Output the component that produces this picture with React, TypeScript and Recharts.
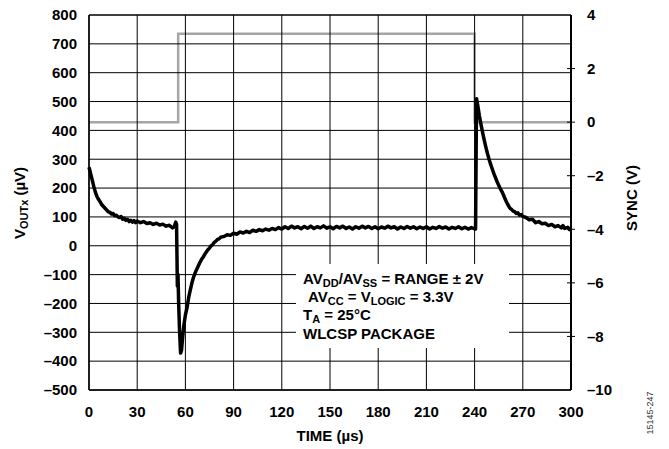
import { LineChart, Line, XAxis, YAxis } from 'recharts'

const FONT = '"Liberation Sans", Arial, Helvetica, sans-serif'

// time axis (µs)
const xTicks = [0, 30, 60, 90, 120, 150, 180, 210, 240, 270, 300]
const leftTicks = [-500, -400, -300, -200, -100, 0, 100, 200, 300, 400, 500, 600, 700, 800]
const rightTicks = [-10, -8, -6, -4, -2, 0, 2, 4]

// VOUTx trace
const traceTime = [
  0, 0.5, 1, 2, 3, 4, 5, 6, 7, 8, 9, 10, 11, 12, 13, 14, 15, 16, 17, 18, 19, 20,
  21, 22, 23, 24, 25, 26, 27, 28, 29, 30, 32, 34, 36, 38, 40, 42, 44, 46, 48, 50,
  52, 53, 54, 54.5, 55, 55.4, 55.8, 56.4, 57, 57.6, 58.4, 59.2, 60, 61, 62, 63,
  64, 65, 66, 67, 68, 69, 70, 71, 72, 73, 74, 75, 76, 77, 78, 79, 80, 81, 82, 84,
  86, 88, 90, 92, 94, 96, 98, 100, 102, 104, 106, 108, 110, 112, 114, 116, 118,
  120, 122, 124, 126, 128, 130, 132, 134, 136, 138, 140, 142, 144, 146, 148, 150,
  152, 154, 156, 158, 160, 162, 164, 166, 168, 170, 172, 174, 176, 178, 180, 182,
  184, 186, 188, 190, 192, 194, 196, 198, 200, 202, 204, 206, 208, 210, 212, 214,
  216, 218, 220, 222, 224, 226, 228, 230, 232, 234, 236, 238, 240.6, 241.2, 242,
  243, 244, 245, 246, 247, 248, 249, 250, 251, 252, 253, 254, 255, 256, 257, 258,
  259, 260, 261, 262, 263, 264, 265, 266, 267, 268, 269, 270, 272, 274, 276, 278,
  280, 282, 284, 286, 288, 290, 292, 294, 295, 296, 298, 299, 300,
]
const vout = [
  272, 262, 250, 228, 205, 185, 170, 160, 152, 142, 136, 130, 124, 118, 116, 110, 112, 104, 106, 100, 98, 101,
  92, 95, 88, 92, 84, 88, 82, 87, 80, 86, 80, 84, 77, 80, 74, 78, 72, 75, 68, 71,
  62, 66, 82, 74, -140, -100, -200, -300, -372, -362, -310, -270, -240, -215, -180, -155,
  -130, -110, -95, -82, -70, -58, -48, -40, -30, -22, -14, -8, 0, 4, 12, 16, 22, 24, 30, 32,
  38, 36, 44, 40, 48, 44, 50, 46, 54, 50, 56, 52, 58, 54, 60, 56, 63,
  58, 66, 60, 68, 62, 66, 59, 67, 61, 68, 60, 66, 62, 69, 61, 66,
  59, 67, 62, 68, 60, 65, 58, 66, 61, 68, 62, 67, 60, 66, 59, 65,
  61, 68, 62, 66, 58, 65, 60, 67, 61, 66, 59, 65, 60, 66, 58, 64,
  60, 67, 61, 65, 58, 64, 60, 66, 59, 64, 58, 63, 58, 510, 485,
  450, 420, 392, 366, 342, 320, 300, 282, 266, 250, 236, 222, 210, 198, 188, 176,
  162, 150, 140, 130, 126, 120, 118, 112, 114, 106, 108, 102, 98, 90, 92, 80,
  84, 76, 78, 70, 74, 66, 70, 62, 70, 60, 64, 56, 58,
]

// SYNC level (V)
const syncTime = [0, 55.5, 55.5, 240, 240, 300]
const syncLevel = [0, 0, 3.3, 3.3, 0, 0]

const trace = traceTime.map((t, i) => ({ t, v: vout[i] }))
const sync = syncTime.map((t, i) => ({ t, s: syncLevel[i] }))

// plot box
const W = 669
const H = 449
const M = { top: 15, right: 38, left: 29, bottom: 29 }
const AXW = 60
const AXH = 30
const PX = M.left + AXW
const PY = M.top
const PW = W - M.left - M.right - 2 * AXW
const PH = H - M.top - M.bottom - AXH
const X0 = xTicks[0]
const X1 = xTicks[xTicks.length - 1]
const Y0 = leftTicks[0]
const Y1 = leftTicks[leftTicks.length - 1]
const gx = (t: number) => PX + ((t - X0) / (X1 - X0)) * PW
const gy = (v: number) => PY + ((Y1 - v) / (Y1 - Y0)) * PH

const dash = (v: number) => (v < 0 ? '\u2013' + Math.abs(v) : String(v))

const RightTick = (props: any) => {
  const { x, y, payload } = props
  const v = payload.value
  const edge = v === 4 || v === -10
  return (
    <g>
      {!edge && <line x1={x - 4} x2={x + 4} y1={y} y2={y} stroke="#000" strokeWidth={1} />}
      <text x={x + 16} y={y} dy="0.355em" textAnchor="start" fontFamily={FONT} fontWeight="bold" fontSize={15} fill="#000">
        {dash(v)}
      </text>
    </g>
  )
}

const tickStyle = { fill: '#000', fontSize: 15, fontWeight: 'bold', fontFamily: FONT }

export default function App() {
  return (
    <div style={{ position: 'absolute', left: 0, top: 0, width: W, height: H, background: '#fff' }}>
      <LineChart width={W} height={H} data={trace} margin={M}>
        <XAxis
          dataKey="t"
          type="number"
          domain={[X0, X1]}
          ticks={xTicks}
          tickLine={false}
          tickSize={0}
          tickMargin={16}
          height={AXH}
          axisLine={{ stroke: '#000', strokeWidth: 1.5 }}
          tick={tickStyle}
        />
        <YAxis
          domain={[Y0, Y1]}
          ticks={leftTicks}
          tickFormatter={dash}
          tickLine={false}
          tickSize={0}
          tickMargin={12}
          width={AXW}
          axisLine={{ stroke: '#000', strokeWidth: 1.5 }}
          tick={tickStyle}
        />
        <YAxis
          yAxisId="right"
          orientation="right"
          domain={[-10, 4]}
          ticks={rightTicks}
          tickLine={false}
          tickSize={0}
          tickMargin={0}
          width={AXW}
          axisLine={{ stroke: '#000', strokeWidth: 2 }}
          tick={<RightTick />}
        />
        <Line yAxisId="right" data={sync} dataKey="s" type="linear" stroke="#a6a6a6" strokeWidth={2.5} dot={false} isAnimationActive={false} />
        <Line dataKey="v" type="linear" stroke="#000" strokeWidth={3.5} strokeLinejoin="round" dot={false} isAnimationActive={false} />
      </LineChart>
      <svg width={W} height={H} style={{ position: 'absolute', left: 0, top: 0, pointerEvents: 'none' }} fontFamily={FONT} fontWeight="bold" fill="#000">
        {/* grid */}
        {xTicks.map((t) => (
          <line key={'x' + t} x1={gx(t)} x2={gx(t)} y1={PY} y2={PY + PH} stroke="#000" strokeWidth={1} />
        ))}
        {leftTicks.map((v) => (
          <line key={'y' + v} x1={PX} x2={PX + PW} y1={gy(v)} y2={gy(v)} stroke="#000" strokeWidth={v === Y1 ? 1.5 : 1} />
        ))}
        {/* legend box over the grid */}
        <rect x={296} y={264} width={213} height={84} fill="#fff" />
        <text transform="translate(25,203) rotate(-90)" textAnchor="middle" fontSize={15}>
          V<tspan fontSize={11} dy={3}>OUTx</tspan><tspan dy={-3}> (µV)</tspan>
        </text>
        <text transform="translate(637,198) rotate(-90)" textAnchor="middle" fontSize={15}>
          SYNC (V)
        </text>
        <text x={330} y={441} textAnchor="middle" fontSize={15}>
          TIME (µs)
        </text>
        <g fontSize={15}>
          <text x={303} y={284}>
            AV<tspan fontSize={11} dy={3}>DD</tspan><tspan dy={-3}>/AV</tspan><tspan fontSize={11} dy={3}>SS</tspan><tspan dy={-3}> = RANGE ± 2V</tspan>
          </text>
          <text x={308} y={302}>
            AV<tspan fontSize={11} dy={3}>CC</tspan><tspan dy={-3}> = V</tspan><tspan fontSize={11} dy={3}>LOGIC</tspan><tspan dy={-3}> = 3.3V</tspan>
          </text>
          <text x={303} y={320}>
            T<tspan fontSize={11} dy={3}>A</tspan><tspan dy={-3}> = 25°C</tspan>
          </text>
          <text x={303} y={339}>WLCSP PACKAGE</text>
        </g>
        <text transform="translate(653,413) rotate(-90)" textAnchor="middle" fontSize={9} fontWeight="normal" fill="#333">
          15145-247
        </text>
      </svg>
    </div>
  )
}
